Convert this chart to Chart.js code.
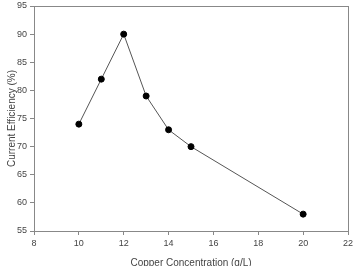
<!DOCTYPE html>
<html>
<head>
<meta charset="utf-8">
<script src="https://cdn.jsdelivr.net/npm/chart.js@4.4.1/dist/chart.umd.min.js"></script>
<style>
  html, body { margin: 0; padding: 0; background: #fff; }
  #wrap { width: 357px; height: 266px; }
</style>
</head>
<body>
<div id="wrap"><canvas id="c" width="357" height="266"></canvas></div>
<script>
// copper concentration (g/L) vs current efficiency (%)
const copperConc = [10, 11, 12, 13, 14, 15, 20];
const efficiency = [74, 82, 90, 79, 73, 70, 58];

const xTitle = 'Copper Concentration (g/L)';
const yTitle = 'Current Efficiency (%)';

// frame round the plot area (top and right edges too)
const frame = {
    id: 'frame',
    beforeDatasetsDraw(chart) {
        const a = chart.chartArea, ctx = chart.ctx;
        ctx.save();
        ctx.strokeStyle = '#888';
        ctx.lineWidth = 1;
        ctx.strokeRect(a.left + 0.5, a.top + 0.5, a.right - a.left, a.bottom - a.top);
        ctx.restore();
    }
};

Chart.defaults.font.family = '"Liberation Sans", Arial, sans-serif';
Chart.defaults.color = '#444';

new Chart(document.getElementById('c'), {
    type: 'scatter',
    data: {
        datasets: [{
            data: copperConc.map((x, i) => ({ x: x, y: efficiency[i] })),
            showLine: true,
            borderColor: '#555',
            borderWidth: 1,
            pointBackgroundColor: '#000',
            pointBorderColor: '#000',
            pointRadius: 3,
            pointHoverRadius: 3
        }]
    },
    options: {
        responsive: false,
        animation: false,
        layout: { padding: { top: 6, right: 9, left: 0, bottom: 0 } },
        plugins: { legend: { display: false }, tooltip: { enabled: false } },
        scales: {
            x: {
                type: 'linear', min: 8, max: 22,
                ticks: { stepSize: 2, padding: 3, font: { size: 9 } },
                grid: { drawOnChartArea: false, tickLength: 4, color: '#888' },
                border: { color: '#888' },
                title: { display: true, text: xTitle, font: { size: 10 }, padding: { top: 0, bottom: -3 } },
                afterFit(s) { s.height = 35; }
            },
            y: {
                min: 55, max: 95,
                ticks: { stepSize: 5, padding: 3, font: { size: 9 } },
                grid: { drawOnChartArea: false, tickLength: 4, color: '#888' },
                border: { color: '#888' },
                title: { display: true, text: yTitle, font: { size: 10 }, padding: { top: 6, bottom: 0 } },
                afterFit(s) { s.width = 34; s.paddingTop = 0; }
            }
        }
    },
    plugins: [frame]
});
</script>
</body>
</html>
